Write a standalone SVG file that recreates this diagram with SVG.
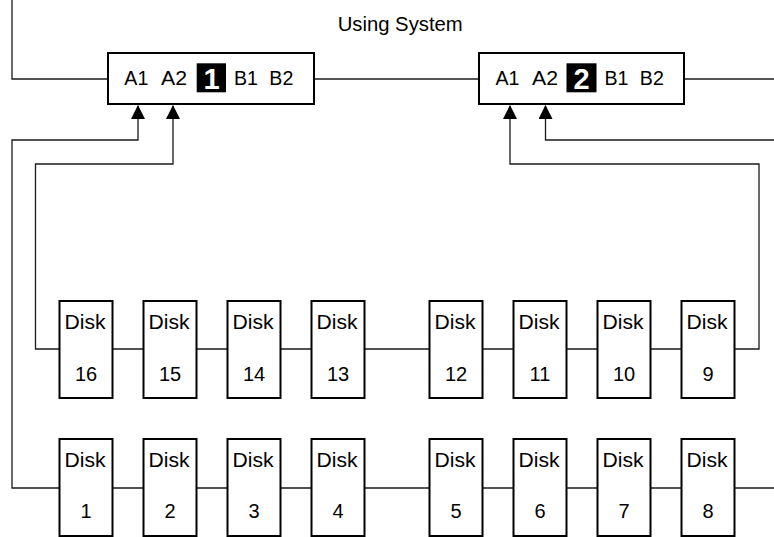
<svg xmlns="http://www.w3.org/2000/svg" width="774" height="537" viewBox="0 0 774 537">
<style>
.box{fill:#fff;stroke:#000;stroke-width:2}
.ln{fill:none;stroke:#1a1a1a;stroke-width:1.3}
.t{font-family:"Liberation Sans",Arial,sans-serif;font-size:20px;fill:#000}
.n{font-family:"Liberation Sans",Arial,sans-serif;font-size:20px;fill:#000;text-anchor:middle}
.big{font-family:"Liberation Sans",Arial,sans-serif;font-size:29px;font-weight:bold;fill:#fff;text-anchor:middle}
</style>
<defs>
<marker id="ah" markerUnits="userSpaceOnUse" markerWidth="14" markerHeight="14" viewBox="0 0 13 13" refX="12" refY="6.5" orient="auto">
<path d="M0,0 L13,6.5 L0,13 z" fill="#000"/>
</marker>
</defs>
<text class="t" x="337.7" y="31" textLength="125" lengthAdjust="spacingAndGlyphs">Using System</text>
<g id="connectors">
<path class="ln" d="M12,0 V79 H108"/>
<path class="ln" d="M314,79 H478"/>
<path class="ln" d="M684,79 H774"/>
<path class="ln" d="M59.5,488 H12 V140 H138 V106" marker-end="url(#ah)"/>
<path class="ln" d="M59.5,349 H35.5 V164 H173 V106" marker-end="url(#ah)"/>
<path class="ln" d="M734.5,349 H759 V164 H510 V106" marker-end="url(#ah)"/>
<path class="ln" d="M774,140 H545.5 V106" marker-end="url(#ah)"/>
<path class="ln" d="M112.5,349 H143.5 M196.5,349 H227.5 M280.5,349 H311.5 M364.5,349 H429.5 M482.5,349 H513.5 M566.5,349 H597.5 M650.5,349 H681.5"/>
<path class="ln" d="M112.5,488 H143.5 M196.5,488 H227.5 M280.5,488 H311.5 M364.5,488 H429.5 M482.5,488 H513.5 M566.5,488 H597.5 M650.5,488 H681.5 M734.5,488 H774"/>
</g>
<g id="system1">
<rect class="box" x="108" y="53" width="206" height="51"/>
<text class="t" x="124.3" y="84.5" textLength="24" lengthAdjust="spacingAndGlyphs">A1</text>
<text class="t" x="161" y="84.5" textLength="26" lengthAdjust="spacingAndGlyphs">A2</text>
<rect x="196.7" y="63.3" width="29.3" height="29" fill="#000"/>
<text class="big" x="211.5" y="88.5">1</text>
<text class="t" x="234" y="84.5" textLength="24" lengthAdjust="spacingAndGlyphs">B1</text>
<text class="t" x="269.3" y="84.5" textLength="24" lengthAdjust="spacingAndGlyphs">B2</text>
</g>
<g id="system2">
<rect class="box" x="479" y="53" width="205" height="51"/>
<text class="t" x="495.5" y="84.5" textLength="24" lengthAdjust="spacingAndGlyphs">A1</text>
<text class="t" x="532" y="84.5" textLength="26" lengthAdjust="spacingAndGlyphs">A2</text>
<rect x="566.5" y="63.3" width="30" height="29" fill="#000"/>
<text class="big" x="581.5" y="88.5">2</text>
<text class="t" x="604.5" y="84.5" textLength="24" lengthAdjust="spacingAndGlyphs">B1</text>
<text class="t" x="639.8" y="84.5" textLength="24" lengthAdjust="spacingAndGlyphs">B2</text>
</g>
<g id="disk16"><rect class="box" x="59.5" y="301" width="53" height="97"/><text class="t" x="64.5" y="329" textLength="41" lengthAdjust="spacingAndGlyphs">Disk</text><text class="n" x="86" y="380.5">16</text></g>
<g id="disk15"><rect class="box" x="143.5" y="301" width="53" height="97"/><text class="t" x="148.5" y="329" textLength="41" lengthAdjust="spacingAndGlyphs">Disk</text><text class="n" x="170" y="380.5">15</text></g>
<g id="disk14"><rect class="box" x="227.5" y="301" width="53" height="97"/><text class="t" x="232.5" y="329" textLength="41" lengthAdjust="spacingAndGlyphs">Disk</text><text class="n" x="254" y="380.5">14</text></g>
<g id="disk13"><rect class="box" x="311.5" y="301" width="53" height="97"/><text class="t" x="316.5" y="329" textLength="41" lengthAdjust="spacingAndGlyphs">Disk</text><text class="n" x="338" y="380.5">13</text></g>
<g id="disk12"><rect class="box" x="429.5" y="301" width="53" height="97"/><text class="t" x="434.5" y="329" textLength="41" lengthAdjust="spacingAndGlyphs">Disk</text><text class="n" x="456" y="380.5">12</text></g>
<g id="disk11"><rect class="box" x="513.5" y="301" width="53" height="97"/><text class="t" x="518.5" y="329" textLength="41" lengthAdjust="spacingAndGlyphs">Disk</text><text class="n" x="540" y="380.5">11</text></g>
<g id="disk10"><rect class="box" x="597.5" y="301" width="53" height="97"/><text class="t" x="602.5" y="329" textLength="41" lengthAdjust="spacingAndGlyphs">Disk</text><text class="n" x="624" y="380.5">10</text></g>
<g id="disk9"><rect class="box" x="681.5" y="301" width="53" height="97"/><text class="t" x="686.5" y="329" textLength="41" lengthAdjust="spacingAndGlyphs">Disk</text><text class="n" x="708" y="380.5">9</text></g>
<g id="disk1"><rect class="box" x="59.5" y="439" width="53" height="97"/><text class="t" x="64.5" y="467" textLength="41" lengthAdjust="spacingAndGlyphs">Disk</text><text class="n" x="86" y="518">1</text></g>
<g id="disk2"><rect class="box" x="143.5" y="439" width="53" height="97"/><text class="t" x="148.5" y="467" textLength="41" lengthAdjust="spacingAndGlyphs">Disk</text><text class="n" x="170" y="518">2</text></g>
<g id="disk3"><rect class="box" x="227.5" y="439" width="53" height="97"/><text class="t" x="232.5" y="467" textLength="41" lengthAdjust="spacingAndGlyphs">Disk</text><text class="n" x="254" y="518">3</text></g>
<g id="disk4"><rect class="box" x="311.5" y="439" width="53" height="97"/><text class="t" x="316.5" y="467" textLength="41" lengthAdjust="spacingAndGlyphs">Disk</text><text class="n" x="338" y="518">4</text></g>
<g id="disk5"><rect class="box" x="429.5" y="439" width="53" height="97"/><text class="t" x="434.5" y="467" textLength="41" lengthAdjust="spacingAndGlyphs">Disk</text><text class="n" x="456" y="518">5</text></g>
<g id="disk6"><rect class="box" x="513.5" y="439" width="53" height="97"/><text class="t" x="518.5" y="467" textLength="41" lengthAdjust="spacingAndGlyphs">Disk</text><text class="n" x="540" y="518">6</text></g>
<g id="disk7"><rect class="box" x="597.5" y="439" width="53" height="97"/><text class="t" x="602.5" y="467" textLength="41" lengthAdjust="spacingAndGlyphs">Disk</text><text class="n" x="624" y="518">7</text></g>
<g id="disk8"><rect class="box" x="681.5" y="439" width="53" height="97"/><text class="t" x="686.5" y="467" textLength="41" lengthAdjust="spacingAndGlyphs">Disk</text><text class="n" x="708" y="518">8</text></g>
</svg>
